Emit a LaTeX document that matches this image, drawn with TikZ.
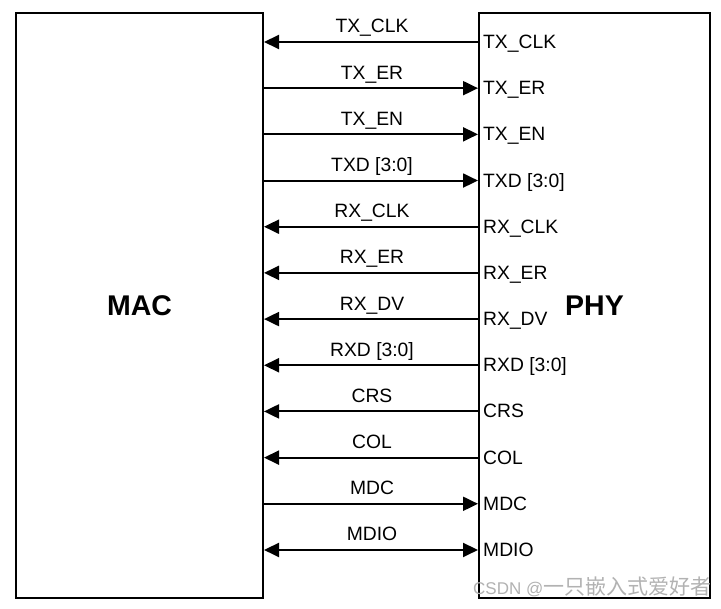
\documentclass[tikz,border=0pt]{standalone}
\usepackage{fontspec}
\setmainfont{Liberation Sans}
\setsansfont{Liberation Sans}
\newfontfamily\cjkfont{Noto Sans CJK SC}
\usetikzlibrary{arrows.meta}
\begin{document}
\begin{tikzpicture}[x=1pt,y=-1pt,
  >={Triangle[length=15pt,width=14pt]},
  box/.style={draw, line width=2pt, inner sep=0pt, anchor=north west},
  sig/.style={line width=2pt},
  title/.style={font=\fontsize{28.5}{30}\selectfont\bfseries},
  lbl/.style={font=\fontsize{19.3}{22}\selectfont, inner sep=0pt},
  wmark/.style={font=\fontsize{17}{18}\selectfont, text=black!30, inner sep=0pt, anchor=base west}]
\clip (0,0) rectangle (721,609);
\fill[white] (0,0) rectangle (721,609);
\node[box, minimum width=247pt, minimum height=585pt] (mac) at (15,12) {};
\node[box, minimum width=231pt, minimum height=585pt] (phy) at (478,12) {};
\node[title] (mactxt) at (mac.center) {MAC};
\node[title] (phytxt) at (phy.center) {PHY};
\foreach \i/\t/\d in {0/TX\_CLK/<-, 1/TX\_ER/->, 2/TX\_EN/->, 3/TXD [3:0]/->,
  4/RX\_CLK/<-, 5/RX\_ER/<-, 6/RX\_DV/<-, 7/RXD [3:0]/<-, 8/CRS/<-,
  9/COL/<-, 10/MDC/->, 11/MDIO/<->} {
  \pgfmathsetmacro{\yy}{42+46.18*\i}
  \coordinate (r\i) at (372,\yy);
  \node[lbl, anchor=base] (t\i) at (372,\yy-9) {\t};
  \node[lbl, anchor=base west] (p\i) at (483,\yy+6.5) {\t};
  \draw[sig,\d] (mac.east |- r\i) -- (phy.west |- r\i);
}
\node[wmark] (wm) at (473,595) {CSDN @{\cjkfont\fontsize{21}{22}\selectfont 一只嵌入式爱好者}};
\end{tikzpicture}
\end{document}
